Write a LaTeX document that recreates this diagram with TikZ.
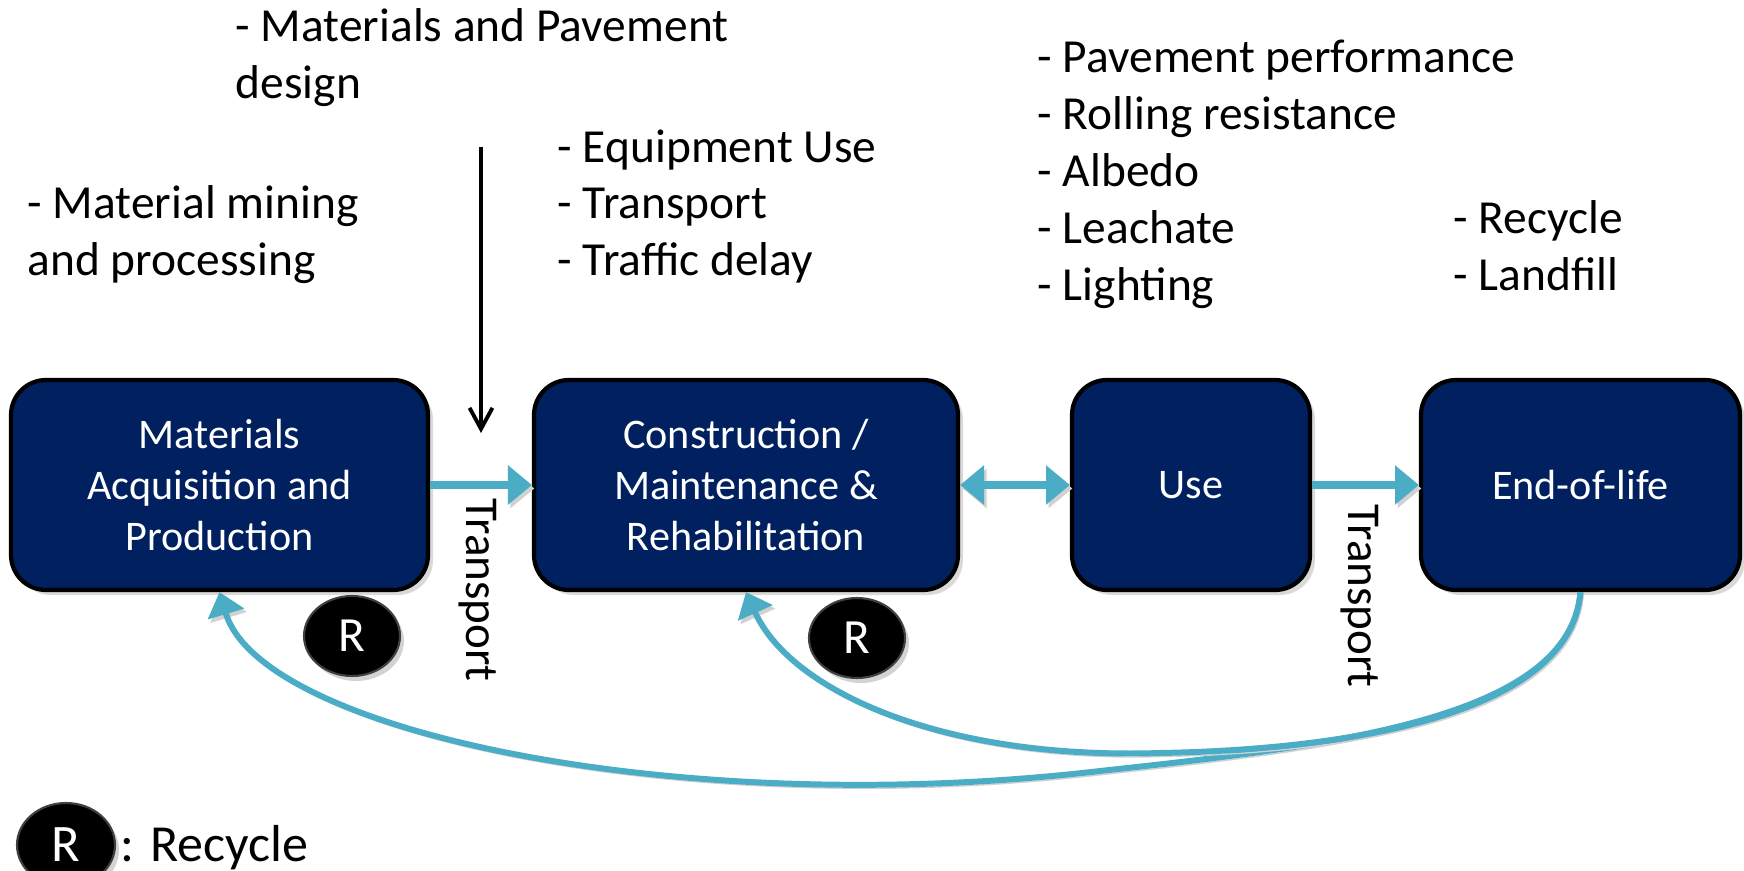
\documentclass[tikz,border=0pt]{standalone}
\usepackage{fontspec}
\setmainfont{Carlito}
\usetikzlibrary{arrows.meta,shapes.geometric,shadows}

\definecolor{navy}{RGB}{0,32,96}
\definecolor{aqua}{RGB}{75,172,198}

\tikzset{
    stage/.style={draw=black, line width=1.2pt, fill=navy, rounded corners=3.5mm, text=white, align=center,
        minimum height=2.1cm, inner sep=0pt, font=\fontsize{12}{14.5}\selectfont,
        drop shadow={opacity=0.3, shadow xshift=0.5mm, shadow yshift=-0.5mm}},
    note/.style={anchor=base west, align=left, inner sep=0pt, font=\fontsize{13.5}{16}\selectfont},
    lift/.style={preaction={draw=black!18, transform canvas={shift={(0.25mm,-0.35mm)}}}},
    flow/.style={draw=aqua, line width=2.3pt, lift, -{Triangle[length=6.8pt,width=10.8pt]}},
    back/.style={draw=aqua, line width=1.7pt, lift, -{Triangle[length=6.5pt,width=10.5pt]}},
    recyc/.style={ellipse, fill=black, draw=black!75, line width=0.6pt, text=white, minimum width=0.96cm,
        minimum height=0.8cm, inner sep=0pt, font=\fontsize{14}{14}\selectfont,
        drop shadow={opacity=0.35, shadow xshift=0.4mm, shadow yshift=-0.5mm}}
}

\begin{document}
\begin{tikzpicture}[x=0.1mm, y=-0.1mm]
    \useasboundingbox (0,0) rectangle (1744,871);
    \def\rowy{485}

    % phases of the life cycle
    \node[stage, minimum width=4.17cm] (mat) at (219.5,\rowy) {Materials\\Acquisition and\\Production};
    \node[stage, minimum width=4.24cm] (con) at (746,\rowy) {Construction /\\Maintenance \&\\Rehabilitation};
    \node[stage, minimum width=2.38cm] (use) at (1191,\rowy) {Use};
    \node[stage, minimum width=3.19cm] (eol) at (1580.5,\rowy) {End-of-life};

    \draw[flow] (mat) -- (con);
    \draw[flow, {Triangle[length=6.8pt,width=10.8pt]}-{Triangle[length=6.8pt,width=10.8pt]}] (con) -- (use);
    \draw[flow] (use) -- (eol);

    \node[rotate=-90, inner sep=0pt, font=\fontsize{13.4}{16}\selectfont] (tr1) at (478,590) {Transport};
    \node[rotate=-90, inner sep=0pt, font=\fontsize{13.4}{16}\selectfont] (tr2) at (1360,596) {Transport};

    % inputs of each phase, placed by the baseline of their last line
    \node[note] (design) at (235,98) {- Materials and Pavement\\design};
    \node[note] (mining) at (27,275) {- Material mining\\and processing};
    \node[note] (build) at (557,275) {- Equipment Use\\- Transport\\- Traffic delay};
    \node[note, font=\fontsize{13.5}{16.2}\selectfont] (perf) at (1037,300) {- Pavement performance\\- Rolling resistance\\- Albedo\\- Leachate\\- Lighting};
    \node[note] (fate) at (1453,290) {- Recycle\\- Landfill};

    \coordinate (dtop) at (481,147);
    \coordinate (dbot) at (481,433);
    \draw[line width=1.1pt, -{Straight Barb[length=6pt,width=6.5pt]}] (dtop) -- (dbot);

    % recycling loops back from end-of-life
    \draw[back] (eol.south) .. controls (1570,720) and (1330,746) .. (1100,771)
        .. controls (680,820) and (261,732) .. (mat.south);
    \draw[back] (eol.south) .. controls (1570,720) and (1330,750) .. (1160,753)
        .. controls (940,760) and (790,690) .. (con.south);

    \node[recyc] (r1) at (352,636) {R};
    \node[recyc] (r2) at (857,638) {R};

    \node[recyc, minimum width=0.98cm, minimum height=0.84cm, font=\fontsize{15}{15}\selectfont] (rkey) at (66,845) {R};
    \node[anchor=base west, inner sep=0pt, font=\fontsize{14.8}{17}\selectfont] (key) at (120,861) {: Recycle};
\end{tikzpicture}
\end{document}
